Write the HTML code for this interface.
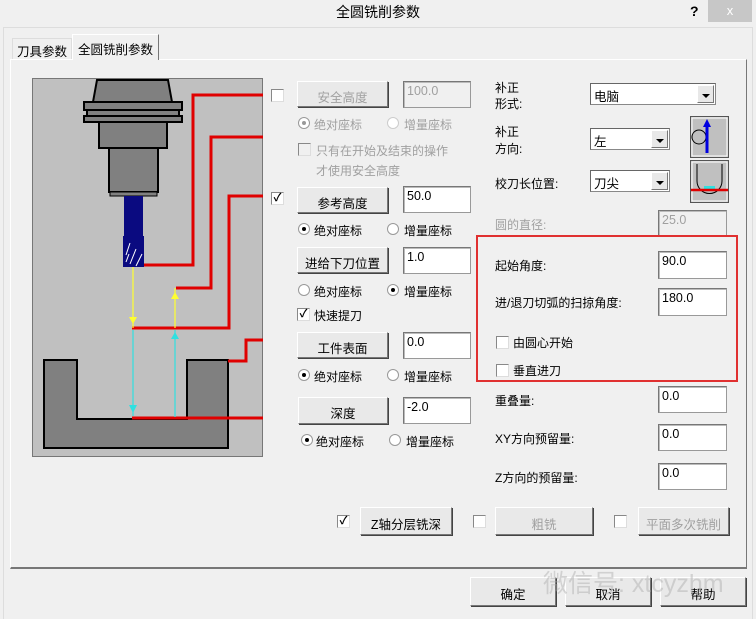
<!DOCTYPE html>
<html><head><meta charset="utf-8"><style>
*{box-sizing:border-box;margin:0;padding:0}
body{width:756px;height:619px;overflow:hidden;background:#f0f0f0;position:relative;font-family:"Liberation Sans","Noto Sans CJK SC",sans-serif;font-size:12px;color:#000}
.a{position:absolute;white-space:nowrap}
.btn{position:absolute;background:#e9e9e9;border:1px solid #fff;border-right-color:#777;border-bottom-color:#777;box-shadow:1px 1px 0 #444;text-align:center;font-size:12.5px}
.dis{color:#a0a0a0}
.inp{position:absolute;background:#fff;border:1px solid #999;border-top-color:#777;border-left-color:#777;box-shadow:inset 1px 1px 0 #bbb;padding:2px 0 0 3px;font-size:12.5px}
.inp.d{background:#f0f0f0;color:#a0a0a0}
.cb{position:absolute;width:13px;height:13px;background:#fff;border:1px solid #888;border-right-color:#ddd;border-bottom-color:#ddd;font-size:11px;line-height:10px;text-align:center;font-weight:bold}
.rd{position:absolute;width:12px;height:12px;border-radius:50%;background:#fff;border:1px solid #999}
.rd.on::after{content:"";position:absolute;left:3px;top:3px;width:4px;height:4px;border-radius:50%;background:#000}
.rd.dis.on::after{background:#999}
.sel{position:absolute;background:#fff;border:1px solid #888;border-top-color:#666;border-left-color:#666;padding:2px 0 0 3px;font-size:12.5px}
.sel i{position:absolute;right:1px;top:1px;bottom:1px;width:17px;background:#e8e8e8;border:1px solid #fff;border-right-color:#777;border-bottom-color:#777}
.sel i::after{content:"";position:absolute;left:4px;top:8px;border:4px solid transparent;border-top:4px solid #000}
</style></head><body>
<div class="a" style="left:0;top:0;width:756px;height:27px;background:#f0f0f0"></div>
<div class="a" style="left:0;top:2px;width:756px;text-align:center;font-size:14px">全圆铣削参数</div>
<div class="a" style="left:690px;top:3px;font-weight:bold;font-size:14px">?</div>
<div class="a" style="left:708px;top:0;width:44px;height:22px;background:#c7c7c7;color:#fff;text-align:center;font-size:13px;line-height:22px">x</div>
<div class="a" style="left:3px;top:27px;width:750px;height:592px;border:1px solid #ddd;border-bottom:none"></div>
<div class="a" style="left:12px;top:38px;width:60px;height:22px;border:1px solid #ddd;border-bottom:none;padding:2px 0 0 4px;font-size:12.5px">刀具参数</div>
<div class="a" style="left:72px;top:34px;width:87px;height:26px;border:1px solid #fff;border-right:1px solid #777;border-bottom:none;background:#f0f0f0;padding:4px 0 0 5px;font-size:12.5px;z-index:2">全圆铣削参数</div>
<div class="a" style="left:10px;top:59px;width:737px;height:510px;border:1px solid #fff;border-right-color:#777;border-bottom:2px solid #777"></div>
<svg class="a" style="left:32px;top:78px" width="231" height="379" viewBox="32 78 231 379">
<rect x="32.5" y="78.5" width="230" height="378" fill="#c0c0c0" stroke="#777"/>
<polygon points="97,80 168,80 172,102 93,102" fill="#808080" stroke="#000" stroke-width="2"/>
<rect x="84" y="102" width="98" height="8" fill="#808080" stroke="#000" stroke-width="2"/>
<rect x="87" y="110" width="92" height="6" fill="#808080" stroke="#000" stroke-width="2"/>
<rect x="84" y="116" width="98" height="6" fill="#808080" stroke="#000" stroke-width="2"/>
<rect x="99" y="122" width="68" height="26" fill="#808080" stroke="#000" stroke-width="2"/>
<rect x="109" y="148" width="49" height="44" fill="#808080" stroke="#000" stroke-width="2"/>
<rect x="110" y="192" width="47" height="4" fill="#808080" stroke="#000" stroke-width="1"/>
<rect x="124" y="196" width="19" height="40" fill="#0a0a80"/>
<rect x="123" y="236" width="21" height="31" fill="#0a0a80"/>
<path d="M126 255l4-12M130 264l6-15M136 266l6-12M126 262l3-8" stroke="#fff" stroke-width="1"/>
<path d="M44 360h33v59h110v-59h41v88h-184z" fill="#808080" stroke="#000" stroke-width="2"/>
<g stroke="#e00000" stroke-width="3" fill="none">
<path d="M144 265h49v-170h70"/>
<path d="M176 288h35v-151h52"/>
<path d="M132 328h97v-132h34"/>
<path d="M228 361h18v-21h17"/>
<path d="M132 418h131"/>
</g>
<g stroke-width="1.2">
<path d="M133 267v61" stroke="#ffff30"/>
<path d="M175 288v40" stroke="#ffff30"/>
<path d="M133 330v86" stroke="#30e0e0"/>
<path d="M175 330v87" stroke="#30e0e0"/>
</g>
<polygon points="129,317 137,317 133,324" fill="#ffff30"/>
<polygon points="171,299 179,299 175,292" fill="#ffff30"/>
<polygon points="129,405 137,405 133,413" fill="#30e0e0"/>
<polygon points="171,339 179,339 175,332" fill="#30e0e0"/>
</svg>
<div class="cb" style="left:271px;top:89px"></div>
<div class="btn dis" style="left:297px;top:81px;width:91px;height:26px;padding-top:5px">安全高度</div>
<div class="inp d" style="left:403px;top:81px;width:68px;height:27px">100.0</div>
<div class="rd dis on" style="left:298px;top:117px"></div><div class="a dis" style="left:314px;top:116px">绝对座标</div>
<div class="rd" style="left:387px;top:117px;border-color:#ccc"></div><div class="a dis" style="left:404px;top:116px">增量座标</div>
<div class="cb" style="left:298px;top:143px;background:#f0f0f0"></div><div class="a dis" style="left:316px;top:142px">只有在开始及结束的操作</div>
<div class="a dis" style="left:316px;top:162px">才使用安全高度</div>
<div class="cb" style="left:271px;top:192px">✓</div>
<div class="btn" style="left:297px;top:187px;width:91px;height:26px;padding-top:5px">参考高度</div>
<div class="inp" style="left:403px;top:186px;width:68px;height:27px">50.0</div>
<div class="rd on" style="left:298px;top:223px"></div><div class="a" style="left:314px;top:222px">绝对座标</div>
<div class="rd" style="left:387px;top:223px"></div><div class="a" style="left:404px;top:222px">增量座标</div>
<div class="btn" style="left:297px;top:247px;width:91px;height:26px;padding-top:5px">进给下刀位置</div>
<div class="inp" style="left:403px;top:247px;width:68px;height:27px">1.0</div>
<div class="rd" style="left:298px;top:284px"></div><div class="a" style="left:314px;top:283px">绝对座标</div>
<div class="rd on" style="left:387px;top:284px"></div><div class="a" style="left:404px;top:283px">增量座标</div>
<div class="cb" style="left:297px;top:308px">✓</div><div class="a" style="left:314px;top:307px">快速提刀</div>
<div class="btn" style="left:297px;top:332px;width:91px;height:26px;padding-top:5px">工件表面</div>
<div class="inp" style="left:403px;top:332px;width:68px;height:27px">0.0</div>
<div class="rd on" style="left:298px;top:369px"></div><div class="a" style="left:314px;top:368px">绝对座标</div>
<div class="rd" style="left:387px;top:369px"></div><div class="a" style="left:404px;top:368px">增量座标</div>
<div class="btn" style="left:298px;top:397px;width:90px;height:27px;padding-top:5px">深度</div>
<div class="inp" style="left:403px;top:397px;width:68px;height:27px">-2.0</div>
<div class="rd on" style="left:301px;top:434px"></div><div class="a" style="left:316px;top:433px">绝对座标</div>
<div class="rd" style="left:389px;top:434px"></div><div class="a" style="left:406px;top:433px">增量座标</div>
<div class="a" style="left:495px;top:80px;line-height:16px">补正<br>形式:</div>
<div class="sel" style="left:590px;top:83px;width:126px;height:22px">电脑<i></i></div>
<div class="a" style="left:495px;top:124px;line-height:17px">补正<br>方向:</div>
<div class="sel" style="left:590px;top:128px;width:80px;height:22px">左<i></i></div>
<svg class="a" style="left:690px;top:116px" width="39" height="87">
<rect x="0.5" y="0.5" width="38" height="41" fill="#c0c0c0" stroke="#555"/>
<rect x="2" y="2" width="35" height="38" fill="#c0c0c0" stroke="#fff"/>
<circle cx="9" cy="21" r="7" fill="none" stroke="#000"/>
<path d="M17 37V8" stroke="#0000e0" stroke-width="3"/><polygon points="13,11 21,11 17,3" fill="#0000e0"/>
<rect x="0.5" y="44.5" width="38" height="42" fill="#c0c0c0" stroke="#555"/>
<rect x="2" y="46" width="35" height="39" fill="#c0c0c0" stroke="#fff"/>
<path d="M7 48v17a8 8 0 0 0 25 0v-17" fill="none" stroke="#000"/>
<rect x="14" y="70" width="11" height="3" fill="#30e0e0"/>
<path d="M1 74h37" stroke="#e00000" stroke-width="2.5"/>
</svg>
<div class="a" style="left:495px;top:175px">校刀长位置:</div>
<div class="sel" style="left:590px;top:170px;width:80px;height:22px">刀尖<i></i></div>
<div class="a dis" style="left:495px;top:216px">圆的直径:</div>
<div class="inp d" style="left:658px;top:210px;width:69px;height:27px">25.0</div>
<div class="a" style="left:476px;top:235px;width:262px;height:147px;border:2px solid #e03030"></div>
<div class="a" style="left:495px;top:257px">起始角度:</div>
<div class="inp" style="left:658px;top:251px;width:69px;height:28px">90.0</div>
<div class="a" style="left:495px;top:294px">进/退刀切弧的扫掠角度:</div>
<div class="inp" style="left:658px;top:288px;width:69px;height:28px">180.0</div>
<div class="cb" style="left:496px;top:336px"></div><div class="a" style="left:513px;top:334px">由圆心开始</div>
<div class="cb" style="left:496px;top:364px"></div><div class="a" style="left:513px;top:362px">垂直进刀</div>
<div class="a" style="left:495px;top:392px">重叠量:</div>
<div class="inp" style="left:658px;top:386px;width:69px;height:27px">0.0</div>
<div class="a" style="left:495px;top:430px">XY方向预留量:</div>
<div class="inp" style="left:658px;top:424px;width:69px;height:27px">0.0</div>
<div class="a" style="left:495px;top:469px">Z方向的预留量:</div>
<div class="inp" style="left:658px;top:463px;width:69px;height:27px">0.0</div>
<div class="cb" style="left:337px;top:515px">✓</div>
<div class="btn" style="left:360px;top:507px;width:92px;height:28px;padding-top:6px">Z轴分层铣深</div>
<div class="cb" style="left:473px;top:515px"></div>
<div class="btn dis" style="left:495px;top:507px;width:98px;height:28px;padding-top:6px">粗铣</div>
<div class="cb" style="left:614px;top:515px"></div>
<div class="btn dis" style="left:638px;top:507px;width:91px;height:28px;padding-top:6px">平面多次铣削</div>
<div class="btn" style="left:470px;top:577px;width:86px;height:29px;padding-top:6px">确定</div>
<div class="btn" style="left:565px;top:577px;width:86px;height:29px;padding-top:6px">取消</div>
<div class="btn" style="left:660px;top:577px;width:86px;height:29px;padding-top:6px">帮助</div>
<div class="a" style="left:543px;top:564px;font-size:25px;color:rgba(170,170,170,0.45)">微信号: xtcyzhm</div>
</body></html>
